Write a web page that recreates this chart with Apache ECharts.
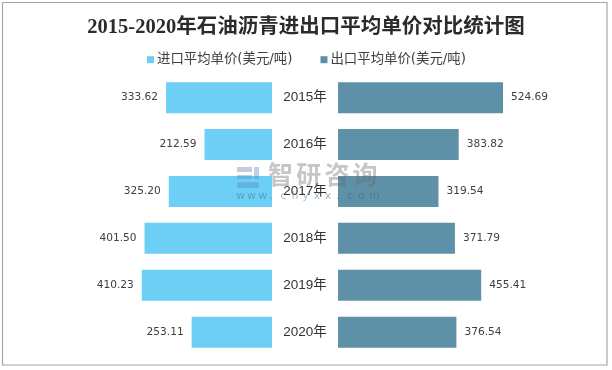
<!DOCTYPE html>
<html><head><meta charset="utf-8">
<style>html,body{margin:0;padding:0;background:#fff}#c{width:612px;height:370px}</style>
<script src="https://cdn.jsdelivr.net/npm/echarts@6/dist/echarts.min.js"></script>
</head><body><div id="c"></div>
<script>
const categories = ['2015年','2016年','2017年','2018年','2019年','2020年'];
const importPrice = [333.62,212.59,325.20,401.50,410.23,253.11];
const exportPrice = [524.69,383.82,319.54,371.79,455.41,376.54];
const titleText = '2015-2020年石油沥青进出口平均单价对比统计图';
const importName = '进口平均单价(美元/吨)';
const exportName = '出口平均单价(美元/吨)';
const markName = '智研咨询';
const markUrl = 'www.chyxx.com';
const cjk = '"Liberation Sans","Noto Sans CJK SC",sans-serif';
const chart = echarts.init(document.getElementById('c'),null,{renderer:'canvas'});
const fmt = p => p.value.toFixed(2);
const nameMarks = Array.from(markName).map((ch,i)=>({type:'text',z:101,x:268+i*28.2,y:164.5,
  style:{text:ch,fontFamily:cjk,fontSize:25,fontWeight:'bold',fill:'rgba(105,105,105,0.38)'}}));
const urlMarks = Array.from(markUrl).map((ch,i)=>({type:'text',z:101,x:236+i*11.1,y:191,
  style:{text:ch,fontFamily:'"DejaVu Sans",sans-serif',fontSize:11,fill:'rgba(60,100,130,0.45)'}}));
chart.setOption({
  animation:false,
  backgroundColor:'#fff',
  title:{text:titleText,left:'center',top:12,textStyle:{fontFamily:'"Liberation Serif","Noto Sans CJK SC",serif',fontWeight:'bold',fontSize:20.5,color:'#2b2b2b'}},
  legend:{top:48,left:142,itemWidth:7,itemHeight:7,itemGap:28,icon:'rect',textStyle:{fontFamily:'"DejaVu Sans","Noto Sans CJK SC",sans-serif',fontSize:13.4,color:'#404040',padding:[0,0,0,-2]},data:[importName,exportName]},
  grid:[{left:72,width:200,top:74.2,bottom:14.4},{left:338,width:200,top:74.2,bottom:14.4}],
  xAxis:[
    {gridIndex:0,type:'value',inverse:true,min:0,max:630,show:false},
    {gridIndex:1,type:'value',min:0,max:636,show:false}
  ],
  yAxis:[
    {gridIndex:0,type:'category',inverse:true,data:categories,axisLine:{show:false},axisTick:{show:false},axisLabel:{show:false}},
    {gridIndex:1,type:'category',inverse:true,data:categories,axisLine:{show:false},axisTick:{show:false},
     axisLabel:{show:true,align:'center',margin:33,fontFamily:cjk,fontSize:13.5,color:'#333'}}
  ],
  series:[
    {name:importName,type:'bar',xAxisIndex:0,yAxisIndex:0,data:importPrice,barWidth:31,itemStyle:{color:'#6dcff6'},
     label:{show:true,position:'left',distance:8,formatter:fmt,fontFamily:'"DejaVu Sans",sans-serif',fontSize:10.6,color:'#404040'}},
    {name:exportName,type:'bar',xAxisIndex:1,yAxisIndex:1,data:exportPrice,barWidth:31,itemStyle:{color:'#5e90a8'},
     label:{show:true,position:'right',distance:8,formatter:fmt,fontFamily:'"DejaVu Sans",sans-serif',fontSize:10.6,color:'#404040'}}
  ],
  graphic:[
    {type:'rect',z:100,shape:{x:2.5,y:2.5,width:604.5,height:362.5},style:{fill:'none',stroke:'#a6a6a6',lineWidth:1.2}},
    ...nameMarks,...urlMarks,
    {type:'rect',z:101,shape:{x:237,y:167,width:15,height:5},style:{fill:'rgba(110,130,170,0.4)'}},
    {type:'rect',z:101,shape:{x:237,y:175,width:15,height:4},style:{fill:'rgba(90,140,190,0.4)'}},
    {type:'rect',z:101,shape:{x:237,y:182,width:22,height:6},style:{fill:'rgba(90,140,190,0.4)'}},
    {type:'rect',z:101,shape:{x:254,y:167,width:5,height:12},style:{fill:'rgba(90,140,190,0.4)'}}
  ]
});
</script></body></html>
